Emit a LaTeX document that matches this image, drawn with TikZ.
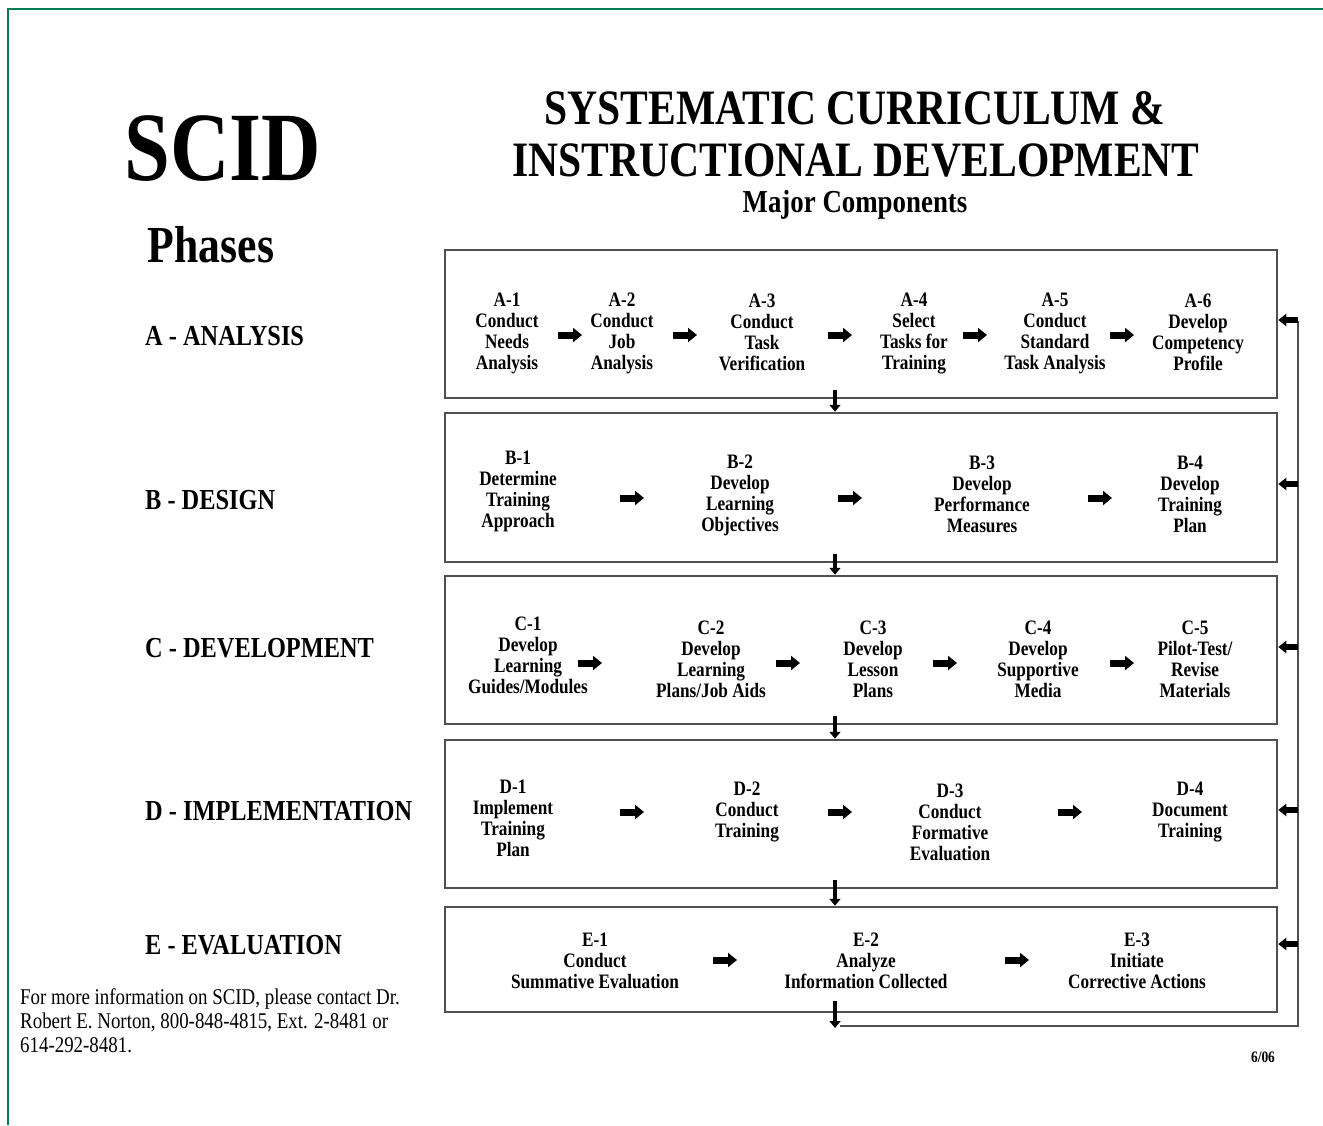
\documentclass[tikz,border=0pt]{standalone}
\usepackage{fontspec}
\setmainfont{Liberation Serif}[FakeStretch=0.84]
\usetikzlibrary{arrows.meta,calc}
\definecolor{framegreen}{RGB}{0,125,85}
\definecolor{boxgray}{RGB}{80,80,80}
\tikzset{
  phasebox/.style={draw=boxgray, line width=2.5pt, inner sep=0pt},
  stepbox/.style={align=center, font=\fontsize{20.5}{21}\selectfont\bfseries, inner sep=0pt},
  phaselabel/.style={anchor=west, font=\fontsize{29}{30}\selectfont\bfseries, inner sep=0pt},
  harrow/.style={line width=7pt, -{Triangle[length=9pt,width=14pt]}},
  varrow/.style={line width=4.5pt, -{Triangle[length=7pt,width=11pt]}},
  loopline/.style={draw=boxgray, line width=2.5pt},
  fbarrow/.style={line width=5.5pt, -{Triangle[length=8pt,width=12pt]}},
}
\begin{document}
\begin{tikzpicture}[x=1pt,y=-1pt]
\useasboundingbox (0,0) rectangle (1323,1125);
% frame
\draw[framegreen, line width=2pt] (8,1125) -- (8,9) -- (1323,9);
% headings
\node[inner sep=0pt, font=\fontsize{98}{98}\selectfont\bfseries] (scid) at (223,149) {SCID};
\node[inner sep=0pt, font=\fontsize{52}{52}\selectfont\bfseries] (phases) at (211,245) {Phases};
\node[inner sep=0pt, font=\fontsize{49.5}{50}\selectfont\bfseries] (t1) at (855,108) {SYSTEMATIC CURRICULUM \&};
\node[inner sep=0pt, font=\fontsize{49.5}{50}\selectfont\bfseries] (t2) at (856,160) {INSTRUCTIONAL DEVELOPMENT};
\node[inner sep=0pt, font=\fontsize{32}{32}\selectfont\bfseries] (t3) at (855,205) {Major Components};
% phase labels
\node[phaselabel] (lA) at (145,336) {A - ANALYSIS};
\node[phaselabel] (lB) at (145,500) {B - DESIGN};
\node[phaselabel] (lC) at (145,648) {C - DEVELOPMENT};
\node[phaselabel] (lD) at (145,811) {D - IMPLEMENTATION};
\node[phaselabel] (lE) at (145,945) {E - EVALUATION};
% boxes
\node[phasebox, minimum width=832pt, minimum height=148pt] (boxA) at (861,324) {};
\node[phasebox, minimum width=832pt, minimum height=149pt] (boxB) at (861,487.5) {};
\node[phasebox, minimum width=832pt, minimum height=148pt] (boxC) at (861,650) {};
\node[phasebox, minimum width=832pt, minimum height=148pt] (boxD) at (861,814) {};
\node[phasebox, minimum width=832pt, minimum height=105pt] (boxE) at (861,959.5) {};
% row A
\node[stepbox] (a1) at (507,333) {A-1\\Conduct\\Needs\\Analysis};
\node[stepbox] (a2) at (622,333) {A-2\\Conduct\\Job\\Analysis};
\node[stepbox] (a3) at (762,332) {A-3\\Conduct\\Task\\Verification};
\node[stepbox] (a4) at (914,333) {A-4\\Select\\Tasks for\\Training};
\node[stepbox] (a5) at (1055,333) {A-5\\Conduct\\Standard\\Task Analysis};
\node[stepbox] (a6) at (1198,332) {A-6\\Develop\\Competency\\Profile};
% row B
\node[stepbox] (b1) at (518,491) {B-1\\Determine\\Training\\Approach};
\node[stepbox] (b2) at (740,495) {B-2\\Develop\\Learning\\Objectives};
\node[stepbox] (b3) at (982,494) {B-3\\Develop\\Performance\\Measures};
\node[stepbox] (b4) at (1190,494) {B-4\\Develop\\Training\\Plan};
% row C
\node[stepbox] (c1) at (528,655) {C-1\\Develop\\Learning\\Guides/Modules};
\node[stepbox] (c2) at (711,659) {C-2\\Develop\\Learning\\Plans/Job Aids};
\node[stepbox] (c3) at (873,659) {C-3\\Develop\\Lesson\\Plans};
\node[stepbox] (c4) at (1038,659) {C-4\\Develop\\Supportive\\Media};
\node[stepbox] (c5) at (1195,659) {C-5\\Pilot-Test/\\Revise\\Materials};
% row D
\node[stepbox] (d1) at (513,818) {D-1\\Implement\\Training\\Plan};
\node[stepbox] (d2) at (747,812) {D-2\\Conduct\\Training};
\node[stepbox] (d3) at (950,822) {D-3\\Conduct\\Formative\\Evaluation};
\node[stepbox] (d4) at (1190,812) {D-4\\Document\\Training};
% row E
\node[stepbox] (e1) at (595,961) {E-1\\Conduct\\Summative Evaluation};
\node[stepbox] (e2) at (866,961) {E-2\\Analyze\\Information Collected};
\node[stepbox] (e3) at (1137,961) {E-3\\Initiate\\Corrective Actions};
% arrow positions
\foreach \n/\x/\y in {A1/570/335, A2/685/335, A3/840/335, A4/975/335, A5/1122/335,
  B1/632/498, B2/850/498, B3/1100/498,
  C1/590/663, C2/788/663, C3/945/663, C4/1122/663,
  D1/632/812, D2/840/812, D3/1070/812,
  E1/725/960, E2/1017/960}
  \coordinate (ar\n) at (\x,\y);
\foreach \n in {A1,A2,A3,A4,A5,B1,B2,B3,C1,C2,C3,C4,D1,D2,D3,E1,E2}
  \draw[harrow] ([xshift=-12pt]ar\n) -- ([xshift=12pt]ar\n);
% spine and phase-to-phase arrows
\coordinate (spine) at (835,0);
\draw[varrow] ([yshift=9pt]boxA.south -| spine) -- (boxB.north -| spine);
\draw[varrow] ([yshift=9pt]boxB.south -| spine) -- (boxC.north -| spine);
\draw[varrow] ([yshift=9pt]boxC.south -| spine) -- (boxD.north -| spine);
\draw[varrow] ([yshift=9pt]boxD.south -| spine) -- (boxE.north -| spine);
\coordinate (loopend) at (835,1028);
\draw[varrow] ([yshift=12pt]boxE.south -| spine) -- (loopend);
% feedback loop
\coordinate (loopstart) at (840,1026);
\coordinate (loopcorner) at (1298,1026);
\coordinate (looptop) at (1298,320);
\draw[loopline] (loopstart) -- (loopcorner) -- ([yshift=-1pt]looptop);
\coordinate (fbB) at (1298,484);
\coordinate (fbC) at (1298,647);
\coordinate (fbD) at (1298,810);
\coordinate (fbE) at (1298,944);
\draw[fbarrow] (looptop) -- (looptop -| boxA.east);
\draw[fbarrow] (fbB) -- (fbB -| boxB.east);
\draw[fbarrow] (fbC) -- (fbC -| boxC.east);
\draw[fbarrow] (fbD) -- (fbD -| boxD.east);
\draw[fbarrow] (fbE) -- (fbE -| boxE.east);
% footer
\node[anchor=north west, align=left, inner sep=0pt, font=\fontsize{22.5}{24}\selectfont] (foot) at (20,988)
  {For more information on SCID, please contact Dr.\\Robert E. Norton, 800-848-4815, Ext. 2-8481 or\\614-292-8481.};
\node[inner sep=0pt, font=\fontsize{16}{16}\selectfont\bfseries] (date) at (1263,1057) {6/06};
\end{tikzpicture}
\end{document}
